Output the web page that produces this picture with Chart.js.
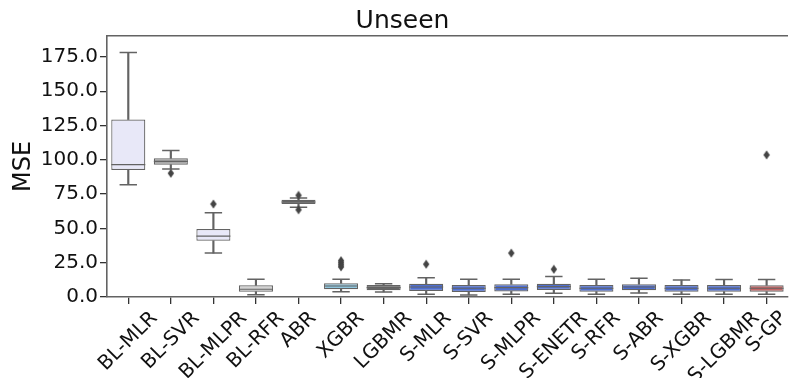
<!DOCTYPE html>
<html>
<head>
<meta charset="utf-8">
<script src="https://cdn.jsdelivr.net/npm/chart.js@4"></script>
<style>
  html, body { margin: 0; padding: 0; background: #fff; overflow: hidden; }
  #wrap { width: 801px; height: 378px; overflow: hidden; }
</style>
</head>
<body>
<div id="wrap"><canvas id="chart" width="806" height="378"></canvas></div>
<script>
// data (MSE, unseen set)
const labels = ["BL-MLR", "BL-SVR", "BL-MLPR", "BL-RFR", "ABR", "XGBR", "LGBMR", "S-MLR",
  "S-SVR", "S-MLPR", "S-ENETR", "S-RFR", "S-ABR", "S-XGBR", "S-LGBMR", "S-GP"];
const whiskerLow  = [81.9, 93.4, 32.0, 1.7, 65.5, 3.9, 3.7, 2.0, 1.5, 2.0, 2.7, 2.0, 2.9, 2.0, 2.0, 2.0];
const q1          = [92.6, 96.5, 41.0, 3.9, 67.8, 5.6, 4.9, 4.4, 3.7, 4.1, 5.1, 3.9, 4.9, 3.9, 3.9, 3.9];
const median      = [96.5, 98.9, 44.4, 5.6, 69.3, 8.0, 6.8, 7.3, 6.4, 6.8, 7.6, 6.4, 7.3, 6.4, 6.4, 6.4];
const q3          = [129.4, 101.1, 49.5, 8.5, 70.9, 10.0, 8.8, 9.7, 8.8, 9.3, 9.7, 8.8, 9.3, 8.8, 8.8, 8.5];
const whiskerHigh = [178.2, 106.8, 61.4, 12.9, 72.2, 12.9, 9.7, 14.1, 12.9, 12.9, 14.9, 12.9, 13.7, 12.4, 12.7, 12.7];
const outlierCats   = ["BL-SVR", "BL-MLPR", "ABR", "ABR", "XGBR", "XGBR", "XGBR", "XGBR", "S-MLR", "S-MLPR", "S-ENETR", "S-GP"];
const outlierValues = [90.2, 67.8, 74.1, 63.6, 26.5, 25.0, 23.5, 22.0, 23.9, 32.0, 20.2, 103.6];
const yTicks = [0, 25, 50, 75, 100, 125, 150, 175];

const boxColors = ["#e8e8f8", "#a9a9a9", "#e8e8f8", "#d3d3d3", "#696969", "#8fc6de", "#696969",
  "#4f6fd0", "#4f6fd0", "#4f6fd0", "#4f6fd0", "#4f6fd0", "#4f6fd0", "#4f6fd0", "#4f6fd0", "#c46666"];
const edge = "#636363";
const FONT = "'DejaVu Sans', sans-serif";

// thin diamond marker like matplotlib's "d"
const diamond = document.createElement("canvas");
diamond.width = 8;
diamond.height = 10;
{
  const c = diamond.getContext("2d");
  c.fillStyle = "#444";
  c.beginPath();
  c.moveTo(4, 0.5);
  c.lineTo(7.2, 5);
  c.lineTo(4, 9.5);
  c.lineTo(0.8, 5);
  c.closePath();
  c.fill();
}

// draws the category names rotated 45deg and centred under each tick (matplotlib style)
const xLabelPlugin = {
  id: "xLabels",
  afterDraw(chart) {
    const sx = chart.scales.x;
    const ctx = chart.ctx;
    ctx.save();
    ctx.font = "20px " + FONT;
    ctx.fillStyle = "#111";
    ctx.textAlign = "center";
    ctx.textBaseline = "middle";
    const h = 23;
    labels.forEach((lab, i) => {
      const x = sx.getPixelForTick(i);
      const w = ctx.measureText(lab).width;
      const half = (w + h) * Math.SQRT1_2 / 2;
      ctx.save();
      ctx.translate(x, sx.top + 10 + half);
      ctx.rotate(-Math.PI / 4);
      ctx.fillText(lab, 0, 0);
      ctx.restore();
    });
    ctx.restore();
  }
};

new Chart(document.getElementById("chart"), {
  type: "bar",
  data: {
    labels,
    datasets: [
      {
        // lower and upper whiskers
        data: whiskerLow.map((v, i) => [v, q1[i]]),
        backgroundColor: edge, borderWidth: 0, barThickness: 1.5,
        grouped: false, order: 5
      },
      {
        data: whiskerHigh.map((v, i) => [q3[i], v]),
        backgroundColor: edge, borderWidth: 0, barThickness: 1.5,
        grouped: false, order: 5
      },
      {
        // boxes
        data: q1.map((v, i) => [v, q3[i]]),
        backgroundColor: boxColors, borderColor: edge, borderWidth: 1.2,
        borderSkipped: false, barPercentage: 0.8, categoryPercentage: 1.0,
        grouped: false, order: 4
      },
      {
        type: "scatter",
        data: median.map((v, i) => ({ x: labels[i], y: v })),
        pointStyle: "line", pointRadius: 17, borderColor: edge, borderWidth: 1.1,
        order: 3
      },
      {
        type: "scatter",
        data: whiskerLow.map((v, i) => ({ x: labels[i], y: v }))
          .concat(whiskerHigh.map((v, i) => ({ x: labels[i], y: v }))),
        pointStyle: "line", pointRadius: 8.7, borderColor: edge, borderWidth: 1.5,
        order: 2
      },
      {
        type: "scatter",
        data: outlierValues.map((v, i) => ({ x: outlierCats[i], y: v })),
        pointStyle: diamond, pointRadius: 4,
        order: 1
      }
    ]
  },
  options: {
    responsive: false,
    animation: false,
    events: [],
    layout: { padding: { left: 0, right: 1, top: 0, bottom: 0 } },
    plugins: {
      legend: { display: false },
      tooltip: { enabled: false },
      title: {
        display: true, text: "Unseen", color: "#111",
        font: { family: FONT, size: 25, weight: "normal", lineHeight: 1.2 },
        padding: { top: 6, bottom: 0 }
      }
    },
    scales: {
      x: {
        type: "category", offset: true,
        grid: { display: true, drawOnChartArea: false, drawTicks: true, tickLength: 7, offset: false, color: "#333", lineWidth: 1.3 },
        border: { display: true, color: edge, width: 1.6 },
        ticks: { display: false },
        afterFit(s) { s.height = 81; }
      },
      xTop: {
        type: "category", position: "top", offset: true,
        grid: { display: false, drawTicks: false },
        border: { display: true, color: edge, width: 1.6 },
        ticks: { display: false },
        afterFit(s) { s.height = 0; }
      },
      y: {
        min: 0, max: 190.3,
        grid: { display: true, drawOnChartArea: false, drawTicks: true, tickLength: 7, color: "#333", lineWidth: 1.3 },
        border: { display: true, color: edge, width: 1.6 },
        afterBuildTicks(s) { s.ticks = yTicks.map(v => ({ value: v })); },
        ticks: {
          color: "#111", padding: 2,
          font: { family: FONT, size: 20 },
          callback: v => Number(v).toFixed(1)
        },
        title: {
          display: true, text: "MSE", color: "#111",
          font: { family: FONT, size: 24 },
          padding: { top: 9, bottom: 0 }
        },
        afterFit(s) { s.width = 107; }
      }
    }
  },
  plugins: [xLabelPlugin]
});
</script>
</body>
</html>
